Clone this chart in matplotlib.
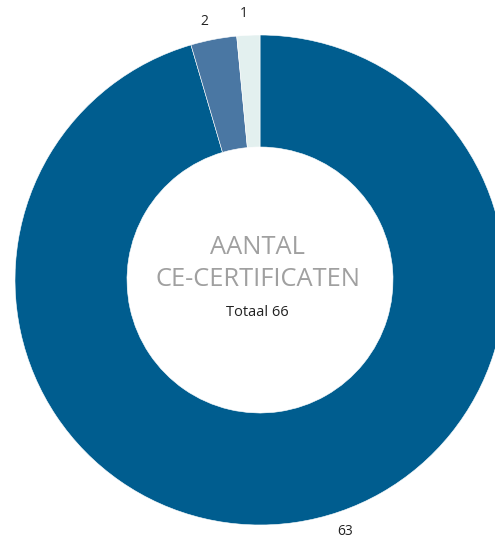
import matplotlib
matplotlib.use("Agg")
import matplotlib.pyplot as plt

values = [63, 2, 1]
labels = ["63", "2", "1"]
colors = ["#005d8f", "#4a77a3", "#e3f0ef"]
title_lines = ["AANTAL", "CE-CERTIFICATEN"]
total_text = "Totaal 66"

W, H = 495, 542
cx, cy, r = 260, 280, 245

fig = plt.figure(figsize=(W / 100, H / 100), dpi=100)
ax = fig.add_axes([0, 0, 1, 1])

wedges, _ = ax.pie(values, colors=colors, startangle=90, counterclock=False,
                   radius=1, wedgeprops=dict(width=1 - 133 / r, edgecolor="white", linewidth=0.4))

ax.set_xlim(-cx / r, (W - cx) / r)
ax.set_ylim(-(H - cy) / r, cy / r)
ax.set_aspect("auto")
ax.axis("off")

# data labels, outside the ring
label_pos = [(0.347, -1.025), (-0.229, 1.057), (-0.065, 1.086)]
for (x, y), lab in zip(label_pos, labels):
    ax.text(x, y, lab, ha="center", va="center", fontsize=10, family="Open Sans", color="#222222")

ax.text(-0.01, (cy - 248) / r, title_lines[0], ha="center", va="center", fontsize=18.4,
        family="Open Sans", color="#a0a0a0")
ax.text(-0.01, (cy - 280) / r, title_lines[1], ha="center", va="center", fontsize=18.4,
        family="Open Sans", color="#a0a0a0")
ax.text(-0.01, (cy - 312) / r, total_text, ha="center", va="center", fontsize=10.5,
        family="Open Sans", color="#222222")

fig.savefig("out.png", dpi=100)
